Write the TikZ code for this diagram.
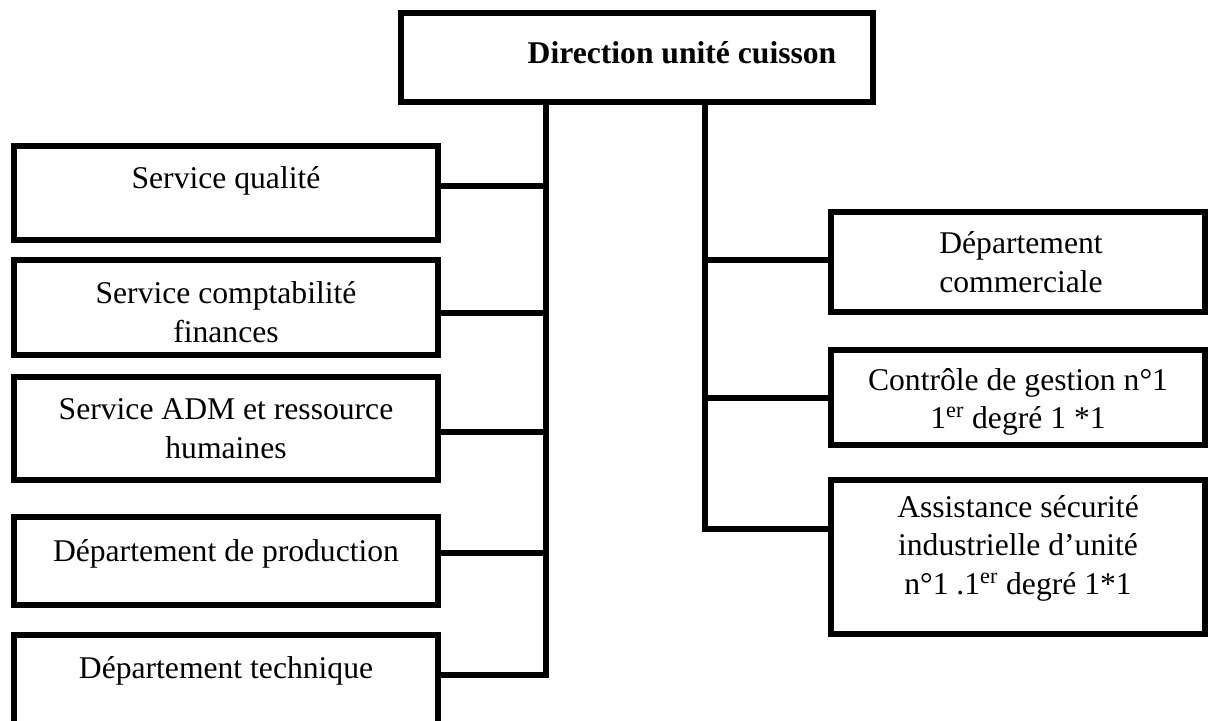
\documentclass[tikz,border=0pt]{standalone}
\usepackage{fontspec}
\setmainfont{Liberation Serif}

\begin{document}
\begin{tikzpicture}[x=0.02cm,y=-0.02cm]

    \tikzset{unit/.style = {shape=rectangle,draw,line width=0.13cm,inner sep=0pt}}
    \tikzset{unittext/.style = {align=center,inner sep=0pt,font=\fontsize{18}{21.9}\selectfont}}
    \tikzset{link/.style = {line width=0.13cm}}

    \useasboundingbox (0,0) rectangle (1212,720);

    \node[unit,minimum width=9.44cm,minimum height=1.78cm] (dir) at (637,57.5) {};
    \node[unittext,font=\fontsize{18}{21.9}\selectfont\bfseries] (dirt) at (682,53) {Direction unité cuisson};

    \node[unit,minimum width=8.48cm,minimum height=1.88cm] (qual) at (226,193) {};
    \node[unit,minimum width=8.48cm,minimum height=1.90cm] (compta) at (226,307.5) {};
    \node[unit,minimum width=8.48cm,minimum height=2.06cm] (adm) at (226,428.5) {};
    \node[unit,minimum width=8.48cm,minimum height=1.76cm] (prod) at (226,561) {};
    \node[unit,minimum width=8.48cm,minimum height=1.90cm] (tech) at (226,682.5) {};

    \node[unittext] (qualt) at (226,181) {Service qualité};
    \node[unittext] (comptat) at (226,312) {Service comptabilité\\finances};
    \node[unittext] (admt) at (226,428.5) {Service ADM et ressource\\humaines};
    \node[unittext] (prodt) at (226,554) {Département de production};
    \node[unittext] (techt) at (226,671) {Département technique};

    \node[unit,minimum width=7.48cm,minimum height=2.00cm] (comm) at (1018,262) {};
    \node[unit,minimum width=7.48cm,minimum height=1.90cm] (ctrl) at (1018,397.5) {};
    \node[unit,minimum width=7.48cm,minimum height=3.08cm] (secu) at (1018,557) {};

    \node[unittext] (commt) at (1021,262) {Département\\commerciale};
    \begin{scope}
        \clip (ctrl.north west) rectangle ([yshift=0.22cm]ctrl.south east);
        \node[unittext] (ctrlt) at (1018,402) {Contrôle de gestion n°1\\1\textsuperscript{er} degré 1 *1};
    \end{scope}
    \node[unittext] (secut) at (1018,548) {Assistance sécurité\\industrielle d’unité\\n°1 .1\textsuperscript{er} degré 1*1};

    \coordinate (jq) at (546,186);
    \coordinate (jc) at (546,313);
    \coordinate (ja) at (546,432);
    \coordinate (jp) at (546,553);
    \coordinate (jt) at (546,675);
    \coordinate (jm) at (705,260);
    \coordinate (jg) at (705,398);
    \coordinate (js) at (705,529);

    \draw[link] (dir.south -| jt) -- (jt) -- (jt -| tech.east);
    \draw[link] (jq) -- (jq -| qual.east);
    \draw[link] (jc) -- (jc -| compta.east);
    \draw[link] (ja) -- (ja -| adm.east);
    \draw[link] (jp) -- (jp -| prod.east);

    \draw[link] (dir.south -| js) -- (js) -- (js -| secu.west);
    \draw[link] (jm) -- (jm -| comm.west);
    \draw[link] (jg) -- (jg -| ctrl.west);

\end{tikzpicture}
\end{document}
